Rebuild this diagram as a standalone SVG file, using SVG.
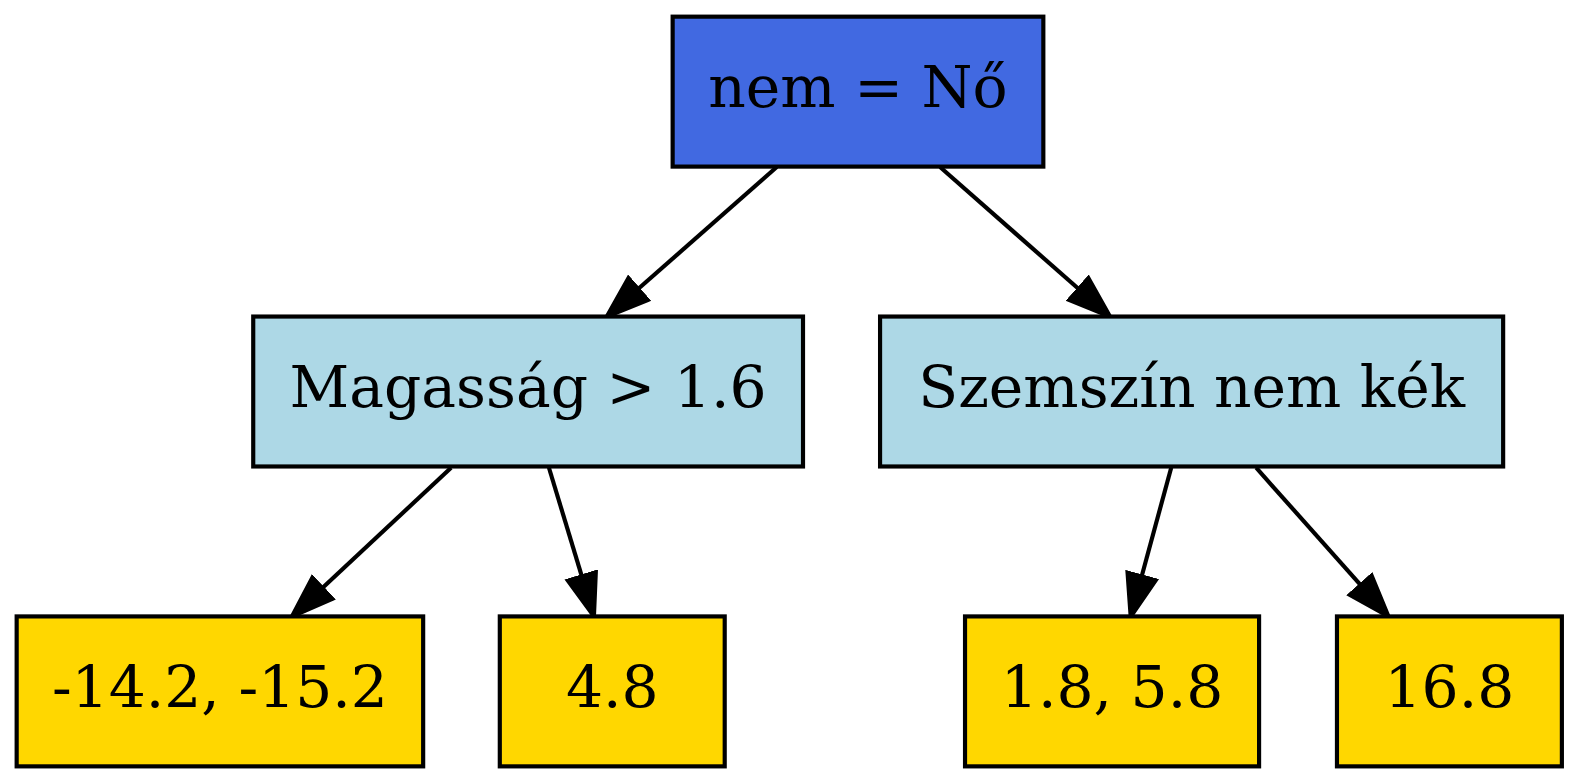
<svg xmlns="http://www.w3.org/2000/svg" width="1579" height="783" viewBox="0 0 1579 783">
<style>
.n rect{stroke:#000;stroke-width:1}
.n text{font-family:"DejaVu Serif","Liberation Serif",serif;font-size:14px;text-anchor:middle;fill:#000}
.root rect{fill:#4169e1}
.mid rect{fill:#add8e6}
.leaf rect{fill:#ffd700}
.e line{stroke:#000;stroke-width:1;fill:none}
</style>
<defs>
<marker id="arr" viewBox="-0.5 -4.5 11.5 9" markerWidth="11.5" markerHeight="9" refX="0" refY="0" orient="auto" markerUnits="userSpaceOnUse">
<path d="M0,-3.5 L10,0 L0,3.5 Z" fill="#000" stroke="#000" stroke-width="1"/>
</marker>
</defs>
<rect width="1579" height="783" fill="#fff"/>
<g transform="scale(4.165)">
<g id="connectors" class="e">
<line x1="186.5" y1="40.1" x2="153.2" y2="69.4" marker-end="url(#arr)"/>
<line x1="225.7" y1="40.1" x2="259.0" y2="69.4" marker-end="url(#arr)"/>
<line x1="108.3" y1="112.3" x2="77.4" y2="141.2" marker-end="url(#arr)"/>
<line x1="131.8" y1="112.3" x2="139.7" y2="138.4" marker-end="url(#arr)"/>
<line x1="281.2" y1="112.3" x2="274.1" y2="138.4" marker-end="url(#arr)"/>
<line x1="301.6" y1="112.3" x2="326.7" y2="140.5" marker-end="url(#arr)"/>
</g>
<g id="node-root" class="n root"><rect x="161.5" y="4" width="89" height="36"/><text x="206" y="25.8">nem = Nő</text></g>
<g id="node-magassag" class="n mid"><rect x="60.8" y="76" width="132" height="36"/><text x="126.8" y="97.8">Magasság &gt; 1.6</text></g>
<g id="node-szemszin" class="n mid"><rect x="211.3" y="76" width="149.6" height="36"/><text x="286.1" y="97.8">Szemszín nem kék</text></g>
<g id="leaf-1" class="n leaf"><rect x="4" y="148" width="97.6" height="36"/><text x="52.8" y="169.8">-14.2, -15.2</text></g>
<g id="leaf-2" class="n leaf"><rect x="120" y="148" width="54" height="36"/><text x="147" y="169.8">4.8</text></g>
<g id="leaf-3" class="n leaf"><rect x="231.7" y="148" width="70.6" height="36"/><text x="267" y="169.8">1.8, 5.8</text></g>
<g id="leaf-4" class="n leaf"><rect x="321" y="148" width="54" height="36"/><text x="348" y="169.8">16.8</text></g>
</g>
</svg>
